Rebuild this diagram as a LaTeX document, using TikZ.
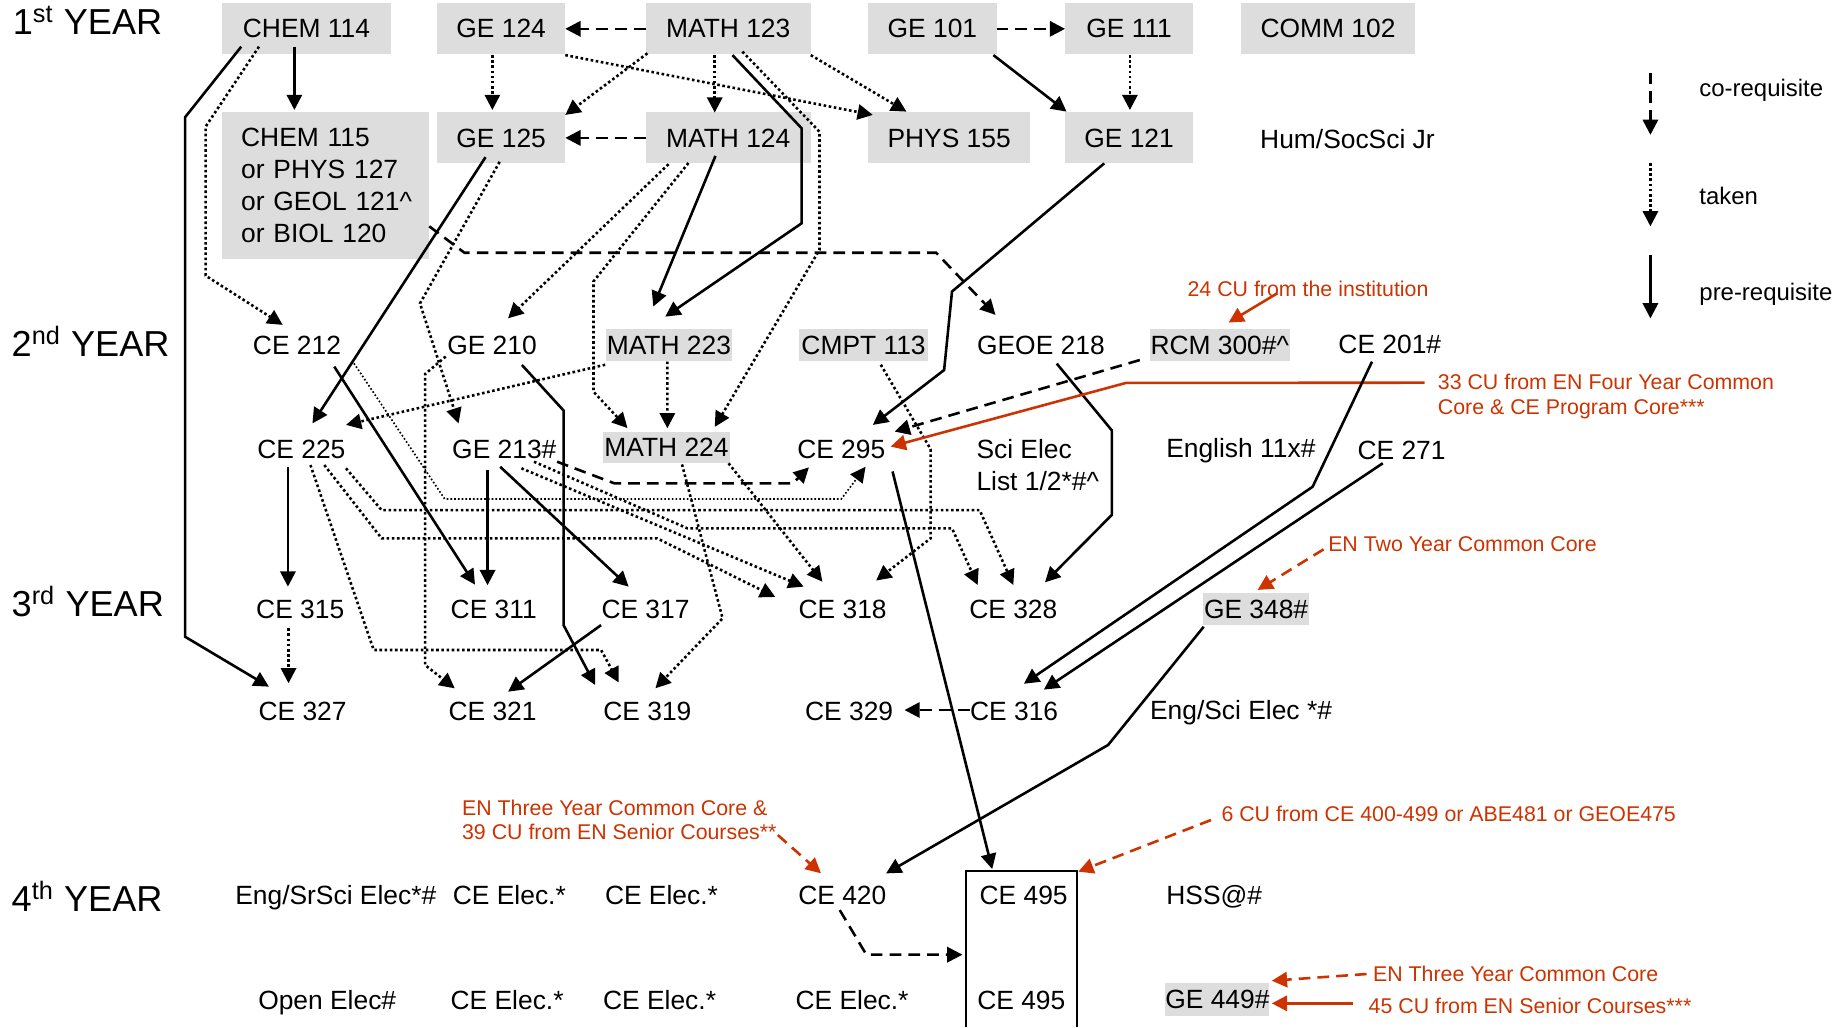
\documentclass[tikz,border=0pt]{standalone}
\usepackage{fontspec}
\setmainfont{Liberation Sans}
\usetikzlibrary{arrows.meta}
\definecolor{boxgray}{RGB}{221,221,221}
\definecolor{annred}{RGB}{204,51,0}
\begin{document}
\begin{tikzpicture}[x=0.5pt,y=-0.5pt,
  every node/.style={inner sep=0pt,outer sep=0pt},
  crs/.style={font=\fontsize{11.25}{13.5}\selectfont,anchor=base},
  gbox/.style={font=\fontsize{11.25}{13.5}\selectfont,anchor=center,fill=boxgray,minimum height=21.75pt},
  tbox/.style={font=\fontsize{11.25}{13.5}\selectfont,anchor=center,fill=boxgray,minimum height=13.5pt},
  yr/.style={font=\fontsize{15.4}{18}\selectfont,anchor=base west},
  ann/.style={font=\fontsize{9.1}{10.4}\selectfont,text=annred,anchor=base west,align=left},
  leg/.style={font=\fontsize{10.2}{12}\selectfont,anchor=base west},
  prereq/.style={line width=1.1pt,-{Triangle[length=6.5pt,width=6.5pt]}},
  takenln/.style={prereq,dash pattern=on 1.1pt off 1.1pt},
  thintaken/.style={line width=0.7pt,dash pattern=on 0.7pt off 0.9pt,-{Triangle[length=6.5pt,width=6.5pt]}},
  coreq/.style={prereq,dash pattern=on 5pt off 3pt},
  redln/.style={line width=1.1pt,draw=annred,-{Triangle[length=6.5pt,width=6.5pt]},annred},
  reddash/.style={redln,dash pattern=on 5pt off 3pt}]
\useasboundingbox (0,0) rectangle (1568,876);

% year labels
\node[yr] (y1) at (11,29.8) {1\textsuperscript{st} YEAR};
\node[yr] (y2) at (10,304) {2\textsuperscript{nd} YEAR};
\node[yr] (y3) at (10,525.8) {3\textsuperscript{rd} YEAR};
\node[yr] (y4) at (10,777.4) {4\textsuperscript{th} YEAR};

% first year boxes
\node[gbox,minimum width=71.75pt] (chem114) at (261.3,24.6) {CHEM 114};
\node[gbox,minimum width=54.7pt] (ge124) at (427.3,24.6) {GE 124};
\node[gbox,minimum width=70.45pt] (math123) at (620.9,24.6) {MATH 123};
\node[gbox,minimum width=54.8pt] (ge101) at (795,24.6) {GE 101};
\node[gbox,minimum width=54.6pt] (ge111) at (962.7,24.6) {GE 111};
\node[gbox,minimum width=74.3pt] (comm102) at (1132.3,24.6) {COMM 102};
\node[font=\fontsize{11.25}{13.65}\selectfont,fill=boxgray,anchor=center,align=left,
  text width=72pt,inner xsep=8.075pt,minimum height=62.6pt] (chem115) at (277.65,158.4)
  {\mbox{CHEM 115}\\\mbox{or PHYS 127}\\\mbox{or GEOL 121\textasciicircum}\\\mbox{or BIOL 120}};
\node[gbox,minimum width=54.7pt] (ge125) at (427.3,117.6) {GE 125};
\node[gbox,minimum width=70.45pt] (math124) at (620.9,117.6) {MATH 124};
\node[gbox,minimum width=69.1pt] (phys155) at (809.3,117.6) {PHYS 155};
\node[gbox,minimum width=54.6pt] (ge121) at (962.7,117.6) {GE 121};
\node[crs,anchor=base west] (humsoc) at (1074.5,126.5) {Hum/SocSci Jr};

% second year
\node[crs] (ce212) at (253.2,302) {CE 212};
\node[crs] (ge210) at (419.5,302) {GE 210};
\node[tbox,minimum width=53.6pt,minimum height=13.35pt] (math223) at (570.3,294.2) {MATH 223};
\node[tbox,minimum width=55.1pt,minimum height=13.35pt] (cmpt113) at (736.3,294.2) {CMPT 113};
\node[crs] (geoe218) at (887.5,302) {GEOE 218};
\node[tbox,minimum width=59.7pt,minimum height=13.35pt] (rcm300) at (1040,294.2) {RCM 300\#\textasciicircum};
\node[crs] (ce201) at (1185,301) {CE 201\#};
\node[crs] (ce225) at (257,391) {CE 225};
\node[crs] (ge213) at (430,391) {GE 213\#};
\node[tbox,minimum width=53.95pt] (math224) at (568.3,381.5) {MATH 224};
\node[crs] (ce295) at (717.3,391) {CE 295};
\node[crs,anchor=base west,align=left] (scielec) at (832.6,418) {Sci Elec\\List 1/2*\#\textasciicircum};
\node[crs] (english) at (1058,390.5) {English 11x\#};
\node[crs] (ce271) at (1195,392) {CE 271};

% third year
\node[crs] (ce315) at (256,527.5) {CE 315};
\node[crs] (ce311) at (421,527.5) {CE 311};
\node[crs] (ce317) at (550.4,527.5) {CE 317};
\node[crs] (ce318) at (718.5,527.5) {CE 318};
\node[crs] (ce328) at (864,527.5) {CE 328};
\node[tbox,minimum width=45pt,minimum height=13.65pt] (ge348) at (1071,519.4) {GE 348\#};
\node[crs] (ce327) at (258,614) {CE 327};
\node[crs] (ce321) at (420,614) {CE 321};
\node[crs] (ce319) at (552,614) {CE 319};
\node[crs] (ce329) at (724,614) {CE 329};
\node[crs] (ce316) at (864.7,614) {CE 316};
\node[crs,anchor=base west] (engsci) at (980.6,613.5) {Eng/Sci Elec *\#};

% fourth year
\node[crs] (engsr) at (286.3,771) {Eng/SrSci Elec*\#};
\node[crs] (ceel1) at (434.3,771) {CE Elec.*};
\node[crs] (ceel2) at (564,771) {CE Elec.*};
\node[crs] (ce420) at (718.2,771) {CE 420};
\node[minimum width=47.45pt,minimum height=66.8pt] (ce495box) at (870.85,809.2) {};
\node[crs] (ce495a) at (872.8,771) {CE 495};
\node[crs] (hss) at (1035.3,771) {HSS@\#};
\node[crs] (openel) at (279,860.5) {Open Elec\#};
\node[crs] (ceel3) at (432.4,860.5) {CE Elec.*};
\node[crs] (ceel4) at (562.4,860.5) {CE Elec.*};
\node[crs] (ceel5) at (726.5,860.5) {CE Elec.*};
\node[crs] (ce495b) at (870.8,860.5) {CE 495};
\node[tbox,minimum width=44pt,minimum height=13.9pt] (ge449) at (1038,852.4) {GE 449\#};
\draw[line width=0.9pt] (ce495box.south west) -- (ce495box.north west) -- (ce495box.north east) -- (ce495box.south east);

% legend
\coordinate (lg1a) at (1407.2,62);  \coordinate (lg1b) at (1407.2,115);
\coordinate (lg2a) at (1407.2,139); \coordinate (lg2b) at (1407.2,193);
\coordinate (lg3a) at (1407.2,217.5); \coordinate (lg3b) at (1407.2,271.5);
\draw[coreq] (lg1a) -- (lg1b);
\draw[takenln] (lg2a) -- (lg2b);
\draw[prereq] (lg3a) -- (lg3b);
\node[leg] (legco) at (1449,82.4) {co-requisite};
\node[leg] (legtk) at (1449,174) {taken};
\node[leg] (legpr) at (1449,255.8) {pre-requisite};

% annotations
\node[ann] (ann24) at (1012.6,252.4) {24 CU from the institution};
\node[ann] (ann33) at (1226,353) {33 CU from EN Four Year Common\\Core \& CE Program Core***};
\node[ann] (ann2yr) at (1132.5,470.4) {EN Two Year Common Core};
\node[ann] (ann3yr) at (394,716.2) {EN Three Year Common Core \&\\39 CU from EN Senior Courses**};
\node[ann] (ann6cu) at (1041.5,700.6) {6 CU from CE 400-499 or ABE481 or GEOE475};
\node[ann] (ann3yrb) at (1170.7,837) {EN Three Year Common Core};
\node[ann] (ann45) at (1167,864) {45 CU from EN Senior Courses***};

% connectors
\draw[coreq] (math123.west) -- (ge124.east);
\draw[coreq] (math124.west) -- (ge125.east);
\draw[coreq] (ge101.east) -- (ge111.west);
\draw[prereq] ([shift={(-10.3,15.4)}]chem114.center) -- ([shift={(-26.65,-64.6)}]chem115.center);
\draw[takenln] ([shift={(-7.5,22.4)}]ge124.center) -- ([shift={(-7.5,-23.8)}]ge125.center);
\draw[takenln] ([shift={(-11.5,22.4)}]math123.center) -- ([shift={(-11.5,-21.6)}]math124.center);
\draw[takenln] ([shift={(0.7,22.4)}]ge111.center) -- ([shift={(0.7,-23.8)}]ge121.center);
\draw[prereq] ([shift={(52,22.4)}]ge101.center) -- ([shift={(-53.3,-22.4)}]ge121.center);
\draw[takenln] ([shift={(70.4,22.4)}]math123.center) -- ([shift={(-36.4,-22.4)}]phys155.center);
\draw[takenln] ([shift={(54.7,22.4)}]ge124.center) -- ([shift={(-65.1,-19.6)}]phys155.center);
\draw[takenln] ([shift={(-68.9,20.9)}]math123.center) -- ([shift={(54.7,-19.6)}]ge125.center);
\draw[prereq] ([shift={(-55.6,15.2)}]chem114.center) -- (157.8,100) -- (157.8,542.9) -- ([shift={(-28.7,-28.5)}]ce327.base);
\draw[takenln] ([shift={(-40.5,15.2)}]chem114.center) -- (175.3,108) -- (175.3,235) -- ([shift={(-12.2,-25)}]ce212.base);
\draw[prereq] ([shift={(3.6,22.4)}]math123.center) -- (683.5,109.4) -- (683.5,190.4) -- ([shift={(-3.1,-24.2)}]math223.center);
\draw[takenln] ([shift={(12.1,19.4)}]math123.center) -- (698.7,112.3) -- (698.7,213) -- ([shift={(41.1,-17.5)}]math224.center);
\draw[prereq] ([shift={(-10.9,15.4)}]math124.center) -- ([shift={(-13.3,-32.8)}]math223.center);
\draw[takenln] ([shift={(-50.9,22.4)}]math124.center) -- ([shift={(13.7,-30.6)}]ge210.base);
\draw[takenln] ([shift={(-33.9,21.4)}]math124.center) -- (506,240) -- (506,334) -- ([shift={(-33.3,-16.5)}]math224.center);
\draw[prereq] ([shift={(-13.3,16.4)}]ge125.center) -- ([shift={(9.4,-30)}]ce225.base);
\draw[takenln] ([shift={(-1.3,20.4)}]ge125.center) -- (358.1,258.7) -- ([shift={(-39,-30)}]ge213.base);
\draw[coreq] ([shift={(88.35,34.6)}]chem115.center) -- (396,215.5) -- (798.2,215.5) -- ([shift={(-38.7,-33.5)}]geoe218.base);
\draw[takenln] ([shift={(-39.5,2)}]ge210.base) -- (362.4,319) -- (362.4,567) -- ([shift={(-32.3,-27.1)}]ce321.base);
\draw[prereq] ([shift={(25.5,9.2)}]ge210.base) -- (480.5,350) -- (480.5,533) -- ([shift={(-44.6,-30)}]ce319.base);
\draw[prereq] ([shift={(31.8,10.6)}]ce212.base) -- ([shift={(-16,-29)}]ce311.base);
\draw[thintaken] ([shift={(48.6,7.8)}]ce212.base) -- (379.2,425.5) -- (717.3,425.5) -- ([shift={(20.7,7)}]ce295.base);
\draw[coreq] ([shift={(45,2.7)}]ge213.base) -- (523.8,412.1) -- (676,412.1) -- ([shift={(-27.6,7.5)}]ce295.base);
\draw[prereq] ([shift={(-11.5,7)}]ce225.base) -- ([shift={(-10.5,-27.3)}]ce315.base);
\draw[prereq] ([shift={(-14.3,9.7)}]ge213.base) -- ([shift={(-5.3,-28.5)}]ce311.base);
\draw[prereq] ([shift={(-3.5,7)}]ge213.base) -- ([shift={(-14.4,-27.3)}]ce317.base);
\draw[takenln] ([shift={(38,8.3)}]ce225.base) -- (325.4,435) -- (835.3,435) -- ([shift={(0,-28.7)}]ce328.base);
\draw[takenln] ([shift={(19.5,5.5)}]ce225.base) -- (325.4,459) -- (560.3,459) -- ([shift={(-57.5,-18.5)}]ce318.base);
\draw[takenln] ([shift={(7.7,5.5)}]ce225.base) -- (318.6,554.2) -- (512.5,554.2) -- ([shift={(-24.4,-32)}]ce319.base);
\draw[takenln] ([shift={(25.3,2.7)}]ge213.base) -- (586.2,450.5) -- (811.7,450.5) -- ([shift={(-30.4,-28.7)}]ce328.base);
\draw[takenln] ([shift={(14.6,8.3)}]ge213.base) -- ([shift={(-33.3,-27.3)}]ce318.base);
\draw[takenln] ([shift={(52.9,13.5)}]math224.center) -- ([shift={(-17.3,-31.5)}]ce318.base);
\draw[takenln] ([shift={(13.2,14.5)}]math224.center) -- (616.1,527.2) -- ([shift={(6.8,-27.1)}]ce319.base);
\draw[takenln] ([shift={(-1.3,14.1)}]math223.center) -- ([shift={(0.7,-16.3)}]math224.center);
\draw[takenln] ([shift={(-54.3,16.8)}]math223.center) -- ([shift={(38,-28.7)}]ce225.base);
\draw[takenln] ([shift={(14.7,16.8)}]cmpt113.center) -- (793.5,383) -- (793.5,459) -- ([shift={(28.5,-32.5)}]ce318.base);
\draw[prereq] ([shift={(13.5,8)}]geoe218.base) -- (948,367) -- (948,439) -- ([shift={(27,-31)}]ce328.base);
\draw[prereq] ([shift={(-21.2,21.7)}]ge121.center) -- (811.7,248.6) -- (805,315.5) -- ([shift={(26.9,-28.7)}]ce295.base);
\draw[coreq] ([shift={(-68.2,12.8)}]rcm300.center) -- ([shift={(45.5,-23)}]ce295.base);
\draw[redln] ([shift={(-11.3,-26.7)}]ann33.base west) -- (960,326.5) -- ([shift={(42.1,-10.2)}]ce295.base);
\draw[redln] ([shift={(76.6,-2.4)}]ann24.base west) -- ([shift={(7.5,-19.2)}]rcm300.center);
\draw[reddash] ([shift={(-4,-2)}]ann2yr.base west) -- ([shift={(1.3,-16.4)}]ge348.center);
\draw[reddash] ([shift={(269.2,-4.2)}]ann3yr.base west) -- ([shift={(-18.2,-26.4)}]ce420.base);
\draw[reddash] ([shift={(-9,-1.4)}]ann6cu.base west) -- ([shift={(48.55,-66)}]ce495box.center);
\draw[reddash] ([shift={(-5.5,-6.5)}]ann3yrb.base west) -- ([shift={(46.4,-16.2)}]ge449.center);
\draw[redln] ([shift={(-13,-8.5)}]ann45.base west) -- ([shift={(46.4,3.1)}]ge449.center);
\draw[prereq] ([shift={(43.7,11)}]ce295.base) -- ([shift={(-24.85,-68.2)}]ce495box.center);
\draw[prereq] ([shift={(-44.7,15)}]ge348.center) -- (944.8,635.2) -- ([shift={(37.3,-26.3)}]ce420.base);
\draw[coreq] ([shift={(-2.2,5)}]ce420.base) -- (738.7,814) -- ([shift={(-50.25,4.8)}]ce495box.center);
\draw[coreq] ([shift={(-37.9,-8.6)}]ce316.base) -- ([shift={(47.2,-8.6)}]ce329.base);
\draw[prereq] ([shift={(-15.2,7.4)}]ce201.base) -- (1119.2,415) -- ([shift={(8.3,-31)}]ce316.base);
\draw[prereq] ([shift={(-16,3)}]ce271.base) -- ([shift={(25.3,-26)}]ce316.base);
\draw[takenln] ([shift={(-10,8.2)}]ce315.base) -- ([shift={(-12,-31.4)}]ce327.base);
\draw[prereq] ([shift={(-37.9,5.5)}]ce317.base) -- ([shift={(13.2,-24.2)}]ce321.base);
\end{tikzpicture}
\end{document}
